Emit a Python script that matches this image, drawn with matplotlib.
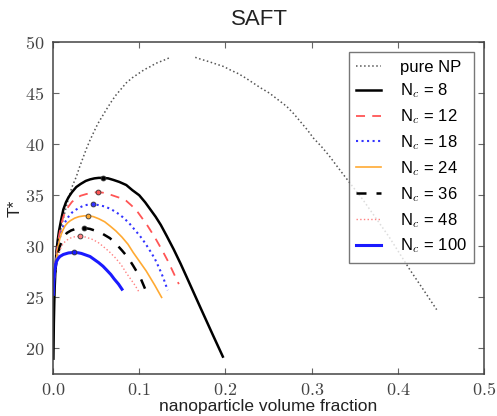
import numpy as np
import matplotlib
matplotlib.use('Agg')
import matplotlib.pyplot as plt

plt.rcParams['font.family'] = ['Liberation Sans', 'DejaVu Sans']
plt.rcParams['mathtext.fontset'] = 'cm'

# coexistence curves: nanoparticle volume fraction vs reduced temperature
pure_left_phi = [0.003, 0.006, 0.010, 0.014, 0.018, 0.022, 0.027, 0.031, 0.035, 0.039,
                 0.043, 0.048, 0.052, 0.057, 0.062, 0.068, 0.073, 0.079, 0.085, 0.092,
                 0.099, 0.106, 0.113, 0.119, 0.125, 0.131, 0.136]
pure_left_T = [28.5, 30.5, 32.0, 33.4, 34.7, 35.8, 36.8, 37.8, 38.7, 39.6,
               40.4, 41.3, 42.0, 42.7, 43.4, 44.2, 44.8, 45.4, 46.0, 46.5,
               46.9, 47.3, 47.6, 47.9, 48.1, 48.3, 48.5]
pure_right_phi = [0.165, 0.172, 0.180, 0.189, 0.198, 0.206, 0.215, 0.223, 0.232, 0.241,
                  0.251, 0.261, 0.271, 0.279, 0.287, 0.295, 0.302, 0.311, 0.320, 0.328,
                  0.337, 0.360, 0.390, 0.414, 0.430, 0.445]
pure_right_T = [48.5, 48.3, 48.1, 47.85, 47.6, 47.25, 46.9, 46.5, 46.0, 45.5,
                45.0, 44.35, 43.7, 43.0, 42.2, 41.4, 40.6, 39.8, 38.9, 38.0,
                37.0, 34.5, 30.9, 27.7, 25.7, 23.8]

nc_values = [8, 12, 18, 24, 36, 48, 100]

phi_8 = [0.0005, 0.001, 0.0015, 0.002, 0.003, 0.004, 0.0055, 0.007, 0.0095, 0.012,
         0.015, 0.018, 0.022, 0.027, 0.032, 0.038, 0.043, 0.048, 0.053, 0.058,
         0.064, 0.070, 0.077, 0.085, 0.092, 0.100, 0.107, 0.113, 0.119, 0.125,
         0.132, 0.140, 0.148, 0.155, 0.163, 0.171, 0.178, 0.185, 0.191, 0.197]
T_8 = [19.0, 22.5, 24.5, 26.0, 28.0, 29.5, 30.6, 31.5, 32.6, 33.6,
       34.3, 34.8, 35.3, 35.8, 36.1, 36.4, 36.55, 36.65, 36.7, 36.7,
       36.65, 36.5, 36.3, 36.0, 35.5, 35.0, 34.3, 33.6, 32.9, 32.1,
       31.0, 29.7, 28.3, 27.0, 25.5, 24.0, 22.7, 21.4, 20.3, 19.2]

phi_12 = [0.0005, 0.001, 0.002, 0.003, 0.004, 0.0055, 0.007, 0.0095, 0.012, 0.015,
          0.018, 0.022, 0.027, 0.032, 0.038, 0.045, 0.052, 0.058, 0.065, 0.072,
          0.079, 0.085, 0.091, 0.097, 0.103, 0.109, 0.115, 0.120, 0.124, 0.128,
          0.133, 0.137, 0.142, 0.146]
T_12 = [26.0, 26.8, 27.8, 28.6, 29.2, 30.2, 31.0, 32.1, 32.9, 33.5,
        33.9, 34.35, 34.7, 34.95, 35.1, 35.25, 35.3, 35.25, 35.1, 34.9,
        34.7, 34.45, 34.0, 33.5, 32.8, 32.1, 31.3, 30.6, 30.0, 29.4,
        28.6, 27.9, 27.0, 26.3]

phi_18 = [0.0005, 0.001, 0.002, 0.003, 0.004, 0.0055, 0.007, 0.0095, 0.012, 0.015,
          0.018, 0.022, 0.027, 0.031, 0.036, 0.041, 0.046, 0.052, 0.060, 0.067,
          0.074, 0.081, 0.088, 0.094, 0.101, 0.107, 0.113, 0.118, 0.123, 0.128, 0.133]
T_18 = [26.0, 26.7, 27.6, 28.4, 29.0, 29.8, 30.5, 31.3, 32.0, 32.5,
        32.9, 33.3, 33.6, 33.8, 34.0, 34.08, 34.1, 34.05, 33.9, 33.65,
        33.3, 32.85, 32.3, 31.7, 31.0, 30.3, 29.5, 28.8, 27.9, 26.9, 25.7]

phi_24 = [0.0005, 0.001, 0.002, 0.003, 0.004, 0.006, 0.008, 0.011, 0.014, 0.017,
          0.020, 0.025, 0.030, 0.036, 0.041, 0.047, 0.053, 0.060, 0.066, 0.073,
          0.080, 0.087, 0.093, 0.098, 0.103, 0.108, 0.113, 0.118, 0.122, 0.126]
T_24 = [25.5, 26.3, 27.3, 28.1, 28.8, 30.0, 30.8, 31.5, 32.0, 32.3,
        32.5, 32.75, 32.9, 32.98, 33.0, 32.9, 32.7, 32.4, 32.0, 31.5,
        30.9, 30.2, 29.4, 28.8, 28.2, 27.6, 26.9, 26.2, 25.6, 25.0]

phi_36 = [0.0005, 0.001, 0.002, 0.003, 0.004, 0.006, 0.008, 0.012, 0.016, 0.021,
          0.026, 0.031, 0.036, 0.043, 0.050, 0.058, 0.066, 0.073, 0.080, 0.087,
          0.093, 0.098, 0.102, 0.106, 0.109]
T_36 = [25.5, 26.2, 27.0, 27.8, 28.5, 29.3, 30.0, 30.8, 31.3, 31.55,
        31.7, 31.78, 31.8, 31.7, 31.5, 31.2, 30.8, 30.25, 29.6, 28.9,
        28.1, 27.4, 26.8, 26.0, 25.4]

phi_48 = [0.0005, 0.001, 0.002, 0.003, 0.004, 0.006, 0.008, 0.010, 0.012, 0.016,
          0.020, 0.025, 0.031, 0.038, 0.045, 0.052, 0.058, 0.065, 0.072, 0.079,
          0.085, 0.090, 0.095, 0.100]
T_48 = [25.5, 26.2, 27.0, 27.7, 28.3, 29.0, 29.6, 30.0, 30.3, 30.6,
        30.8, 30.93, 31.0, 30.9, 30.7, 30.4, 30.0, 29.5, 28.9, 28.2,
        27.4, 26.8, 26.2, 25.5]

phi_100 = [0.0005, 0.001, 0.0015, 0.002, 0.003, 0.004, 0.006, 0.008, 0.012, 0.018,
           0.024, 0.029, 0.033, 0.038, 0.043, 0.048, 0.053, 0.058, 0.062, 0.067,
           0.071, 0.076, 0.080]
T_100 = [25.3, 26.5, 27.1, 27.6, 28.1, 28.5, 28.8, 29.0, 29.2, 29.35,
         29.4, 29.37, 29.3, 29.15, 29.0, 28.7, 28.4, 28.05, 27.7, 27.25,
         26.8, 26.3, 25.8]

# critical points (one per chain length)
crit_phi = [0.058, 0.052, 0.046, 0.041, 0.036, 0.031, 0.024]
crit_T = [36.7, 35.3, 34.1, 33.0, 31.8, 31.0, 29.4]

curves = [(phi_8, T_8), (phi_12, T_12), (phi_18, T_18), (phi_24, T_24),
          (phi_36, T_36), (phi_48, T_48), (phi_100, T_100)]
styles = [
    dict(color='black', ls='-', lw=1.8),
    dict(color='#ff5555', ls=(0, (5, 4)), lw=1.3),
    dict(color='#3333ff', ls=':', lw=1.5),
    dict(color='#ffaa33', ls='-', lw=1.2),
    dict(color='black', ls=(0, (4, 4)), lw=1.8),
    dict(color='#ff8080', ls=':', lw=1.0),
    dict(color='#1a1aff', ls='-', lw=2.2),
]

fig = plt.figure(figsize=(4.97, 4.16), dpi=100)
ax = fig.add_axes([0.1066, 0.101, 0.8674, 0.798])

ax.plot(pure_left_phi, pure_left_T, color='#555555', ls=':', lw=1.1, label='pure NP')
ax.plot(pure_right_phi, pure_right_T, color='#555555', ls=':', lw=1.1)

for n, (phi, T), st, cp, ct in zip(nc_values, curves, styles, crit_phi, crit_T):
    ax.plot(phi, T, label=r'N$_{c}$ = %d' % n, **st)
    ax.plot([cp], [ct], 'o', ms=3.5, mfc=st['color'], mec='#333333', mew=0.6)

ax.set_xlim(0, 0.5)
ax.set_ylim(17.5, 50)
xt = [0.0, 0.1, 0.2, 0.3, 0.4, 0.5]
yt = [20, 25, 30, 35, 40, 45, 50]
ax.set_xticks(xt)
ax.set_xticklabels([r'$%.1f$' % v for v in xt], fontsize=13, color='#444444')
ax.set_yticks(yt)
ax.set_yticklabels([r'$%d$' % v for v in yt], fontsize=13, color='#444444')
ax.tick_params(direction='in', top=True, right=True, length=4, width=0.8,
               color='#666666', pad=6)
for sp in ax.spines.values():
    sp.set_color('#444444')
    sp.set_linewidth(1.1)

ax.set_xlabel('nanoparticle volume fraction', fontsize=12.5, color='#222222', labelpad=0)
ax.set_ylabel('T*', fontsize=12.5, color='#222222', labelpad=2)
ax.set_title('SAFT', fontsize=16, color='#222222', pad=12, x=0.48)

leg = ax.legend(loc='upper right', fontsize=12, frameon=True, fancybox=False,
                handlelength=1.5, handletextpad=1.1, labelspacing=0.42,
                borderpad=0.45, borderaxespad=0.6)
leg.get_frame().set_edgecolor('#555555')
leg.get_frame().set_linewidth(1.0)

fig.savefig('out.png', dpi=100)
